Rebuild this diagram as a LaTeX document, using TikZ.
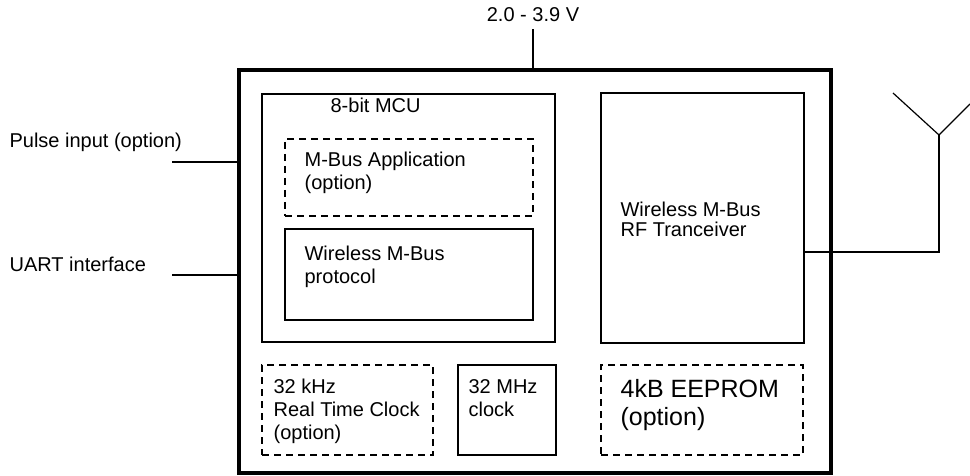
\documentclass[tikz,border=0pt]{standalone}
\usepackage{fontspec}
\setmainfont{Liberation Sans}
\usepackage{tikz}
\usetikzlibrary{positioning}

\begin{document}
\begin{tikzpicture}[x=0.5pt,y=-0.5pt,line width=0.6pt,
  blk/.style={rectangle,draw,inner sep=0},
  optblk/.style={blk,dash pattern=on 3.5pt off 2.5pt},
  txt/.style={inner sep=0,anchor=base west,align=left,font={\fontsize{10}{11.5}\selectfont}}]
  \useasboundingbox (0,0) rectangle (970,476);
  % module outline and blocks
  \node[blk,line width=2pt,minimum width=296pt,minimum height=201.5pt] (chip) at (535,271.5) {};
  \node[blk,minimum width=146.5pt,minimum height=124pt] (mcu) at (408.5,218) {};
  \node[optblk,minimum width=124pt,minimum height=38.5pt] (app) at (409,177.5) {};
  \node[blk,minimum width=124pt,minimum height=45.5pt] (proto) at (409,274.5) {};
  \node[blk,minimum width=101.5pt,minimum height=125pt] (rf) at (702.5,218) {};
  \node[optblk,minimum width=85.5pt,minimum height=45pt] (rtc) at (347.5,410) {};
  \node[blk,minimum width=49pt,minimum height=45pt] (osc) at (507,410) {};
  \node[optblk,minimum width=101pt,minimum height=45pt] (eeprom) at (702,410) {};
  % texts (base = last line)
  \node[txt] (mcutxt) at (330,113) {8-bit MCU};
  \node[txt] (apptxt) at (304,190) {M-Bus Application\\(option)};
  \node[txt] (prototxt) at (304,283) {Wireless M-Bus\\protocol};
  \node[txt,font={\fontsize{10}{10}\selectfont}] (rftxt) at (620,236) {Wireless M-Bus\\RF Tranceiver};
  \node[txt] (rtctxt) at (273,439) {32 kHz\\Real Time Clock\\(option)};
  \node[txt] (osctxt) at (468,416) {32 MHz\\clock};
  \node[txt,font={\fontsize{12.5}{14}\selectfont}] (eepromtxt) at (620,425) {4kB EEPROM\\(option)};
  \node[txt] (pulse) at (9,148) {Pulse input (option)};
  \node[txt] (uart) at (9,271) {UART interface};
  \node[anchor=base] (vcc) at (533,22) {2.0 - 3.9 V};
  % pins
  \coordinate (pin1) at (172,162);
  \coordinate (pin2) at (172,275);
  \coordinate (ant) at (939,252);
  \coordinate (tip) at (939,135);
  \coordinate (armL) at (893,93);
  \coordinate (armR) at (970,104);
  \draw[-](vcc.south)--(vcc.south |- chip.north);
  \draw[-](pin1)--(pin1 -| chip.west);
  \draw[-](pin2)--(pin2 -| chip.west);
  \draw[-](ant -| rf.east)--(ant)--(tip);
  \draw[-](armL)--(tip)--(armR);
\end{tikzpicture}
\end{document}
